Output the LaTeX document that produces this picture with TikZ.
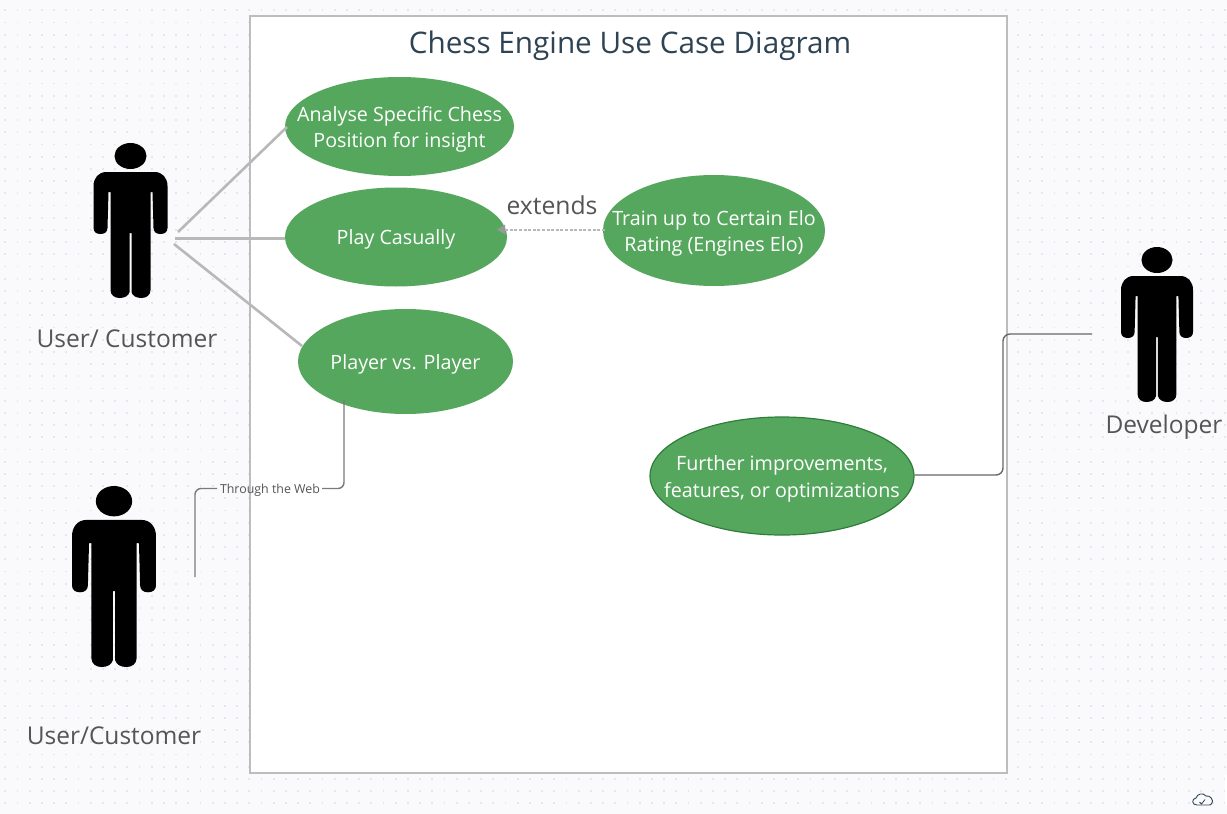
\documentclass[tikz,border=0pt]{standalone}
\usepackage{fontspec}
\setmainfont{Open Sans}
\usetikzlibrary{shapes.geometric,arrows.meta}
\definecolor{canvas}{HTML}{FAFAFD}
\definecolor{griddot}{HTML}{E6E6EC}
\definecolor{framegray}{HTML}{BDBDBD}
\definecolor{usegreen}{HTML}{56A75E}
\definecolor{usedark}{HTML}{2F7D3A}
\definecolor{titleink}{HTML}{2E4454}
\definecolor{labelink}{HTML}{555555}
\definecolor{linkgray}{HTML}{B8B8B8}
\definecolor{elbowgray}{HTML}{7A7A7A}
\tikzset{
  usecase/.style={ellipse,fill=usegreen,draw=none,inner sep=0pt},
  casetext/.style={text=white,align=center,inner sep=0pt,yshift=-2.5pt,font=\fontsize{19.7}{26}\selectfont},
  actorlabel/.style={text=labelink,font=\fontsize{24.5}{28}\selectfont,inner sep=0pt},
  assoc/.style={draw=linkgray,line width=2.6pt},
  elbow/.style={draw=elbowgray,line width=1.4pt,rounded corners=6pt},
  actorbody/.style={fill=black,draw=none},
  gridrow/.style={draw=griddot,line width=1.8pt,dash pattern=on 1.8pt off 10.4pt},
}
% actor: #1 centre x, #2 top y, #3 x scale, #4 y scale
\newcommand{\actorfig}[4]{%
  \begin{scope}[shift={(#1,#2)},xscale=#3,yscale=#4]
    \fill[actorbody] (0,13) ellipse [x radius=16,y radius=13];
    \fill[actorbody] (-24,29) -- (24,29)
      .. controls (32,29) and (37,35) .. (37,43)
      -- (37,85) .. controls (37,89) and (34,91) .. (30,91)
      .. controls (26,91) and (23,89) .. (23,85)
      -- (22,49) -- (20,49) -- (20,147)
      .. controls (20,152) and (16,155) .. (11,155)
      .. controls (6,155) and (2,153) .. (1,149)
      -- (1,90) -- (-1,90) -- (-1,149)
      .. controls (-2,153) and (-6,155) .. (-11,155)
      .. controls (-16,155) and (-20,152) .. (-20,147)
      -- (-20,49) -- (-22,49) -- (-23,85)
      .. controls (-23,89) and (-26,91) .. (-30,91)
      .. controls (-34,91) and (-37,89) .. (-37,85)
      -- (-37,43) .. controls (-37,35) and (-32,29) .. (-24,29) -- cycle;
  \end{scope}}
\begin{document}
\begin{tikzpicture}[x=1pt,y=-1pt]
  \useasboundingbox (0,0) rectangle (1227,814);
  \fill[canvas] (0,0) rectangle (1227,814);
  \foreach \j in {0,...,66}{
    \draw[gridrow] (4.3,{10.3+12.2*\j}) -- (1227,{10.3+12.2*\j});
  }
  % frame
  \node[draw=framegray,fill=white,line width=2.6pt,minimum width=757pt,minimum height=757pt,inner sep=0pt] (frame) at (628.5,394.5) {};
  \node[text=titleink,font=\fontsize{29.7}{33}\selectfont,inner sep=0pt] (title) at (630,46) {Chess Engine Use Case Diagram};
  % actors
  \actorfig{130.5}{143}{1}{1}
  \actorfig{114}{486}{1.135}{1.168}
  \actorfig{1157}{247}{0.973}{1}
  \node[actorlabel] (lab1) at (127,339) {User/ Customer};
  \node[actorlabel] (lab2) at (114,736) {User/Customer};
  \node[actorlabel] (lab3) at (1164,427) {Developer};
  % use cases
  \node[usecase,minimum width=229pt,minimum height=99pt,label={[casetext]center:{Analyse Specific Chess\\Position for insight}}] (analyse) at (399.5,126.5) {};
  \node[usecase,minimum width=222pt,minimum height=99pt,label={[casetext]center:{Play Casually}}] (play) at (396,237) {};
  \node[usecase,minimum width=222pt,minimum height=111pt,label={[casetext]center:{Train up to Certain Elo\\Rating (Engines Elo)}}] (train) at (714,230.5) {};
  \node[usecase,minimum width=215pt,minimum height=105pt,label={[casetext]center:{Player vs. Player}}] (pvp) at (405.5,361.5) {};
  \node[usecase,draw=usedark,line width=1.2pt,minimum width=264pt,minimum height=118pt,label={[casetext]center:{Further improvements,\\[1pt]features, or optimizations}}] (further) at (782,476) {};
  % free connector ends
  \coordinate (u1a) at (178,232);
  \coordinate (u1b) at (175,238.5);
  \coordinate (u1c) at (174,244);
  \coordinate (analyseend) at (287,127);
  \coordinate (pvpend) at (302,346);
  \coordinate (u2) at (195,577);
  \coordinate (pvpfoot) at (344,399);
  \coordinate (dev) at (1092,334);
  % connectors
  \draw[assoc] (u1a) -- (analyseend);
  \draw[assoc] (u1b) -- (u1b -| play.west);
  \draw[assoc] (u1c) -- (pvpend);
  \draw[draw=linkgray,line width=2pt,dash pattern=on 3pt off 1.6pt,-{Triangle[length=8pt,width=9pt,color=gray!80]}]
    (train.west |- 0,229.5) ++(2,0) -- (497,229.5) coordinate (extendstip);
  \node[text=labelink,font=\fontsize{24.7}{28}\selectfont,inner sep=0pt] (extends) at (552,205) {extends};
  \node[text=labelink,font=\fontsize{12.4}{15}\selectfont,inner sep=0pt] (web) at (270,490) {Through the Web};
  \draw[elbow] (u2) -- (u2 |- 0,488.5) -- (217,488.5);
  \draw[elbow] (322,488.5) -- (pvpfoot |- 0,488.5) -- (pvpfoot);
  \draw[draw=elbowgray!85!black,line width=1.4pt,rounded corners=7pt] (dev) -- (1003,334) -- (1003,475) -- (further.east |- 0,475);
  % status cloud
  \fill[white] (1224.5,775) rectangle (1227,805);
  \draw[draw=titleink,line width=0.9pt,line join=round] (1197,805)
    .. controls (1192,805) and (1191,799) .. (1196,798)
    .. controls (1197,794) and (1203,792) .. (1206,796)
    .. controls (1210,795) and (1214,800) .. (1212,803)
    .. controls (1211,805) and (1210,805) .. (1209,805) -- cycle;
  \draw[draw=titleink,line width=0.8pt] (1199.5,802) -- (1201.5,804) -- (1205,799.5);
\end{tikzpicture}
\end{document}
